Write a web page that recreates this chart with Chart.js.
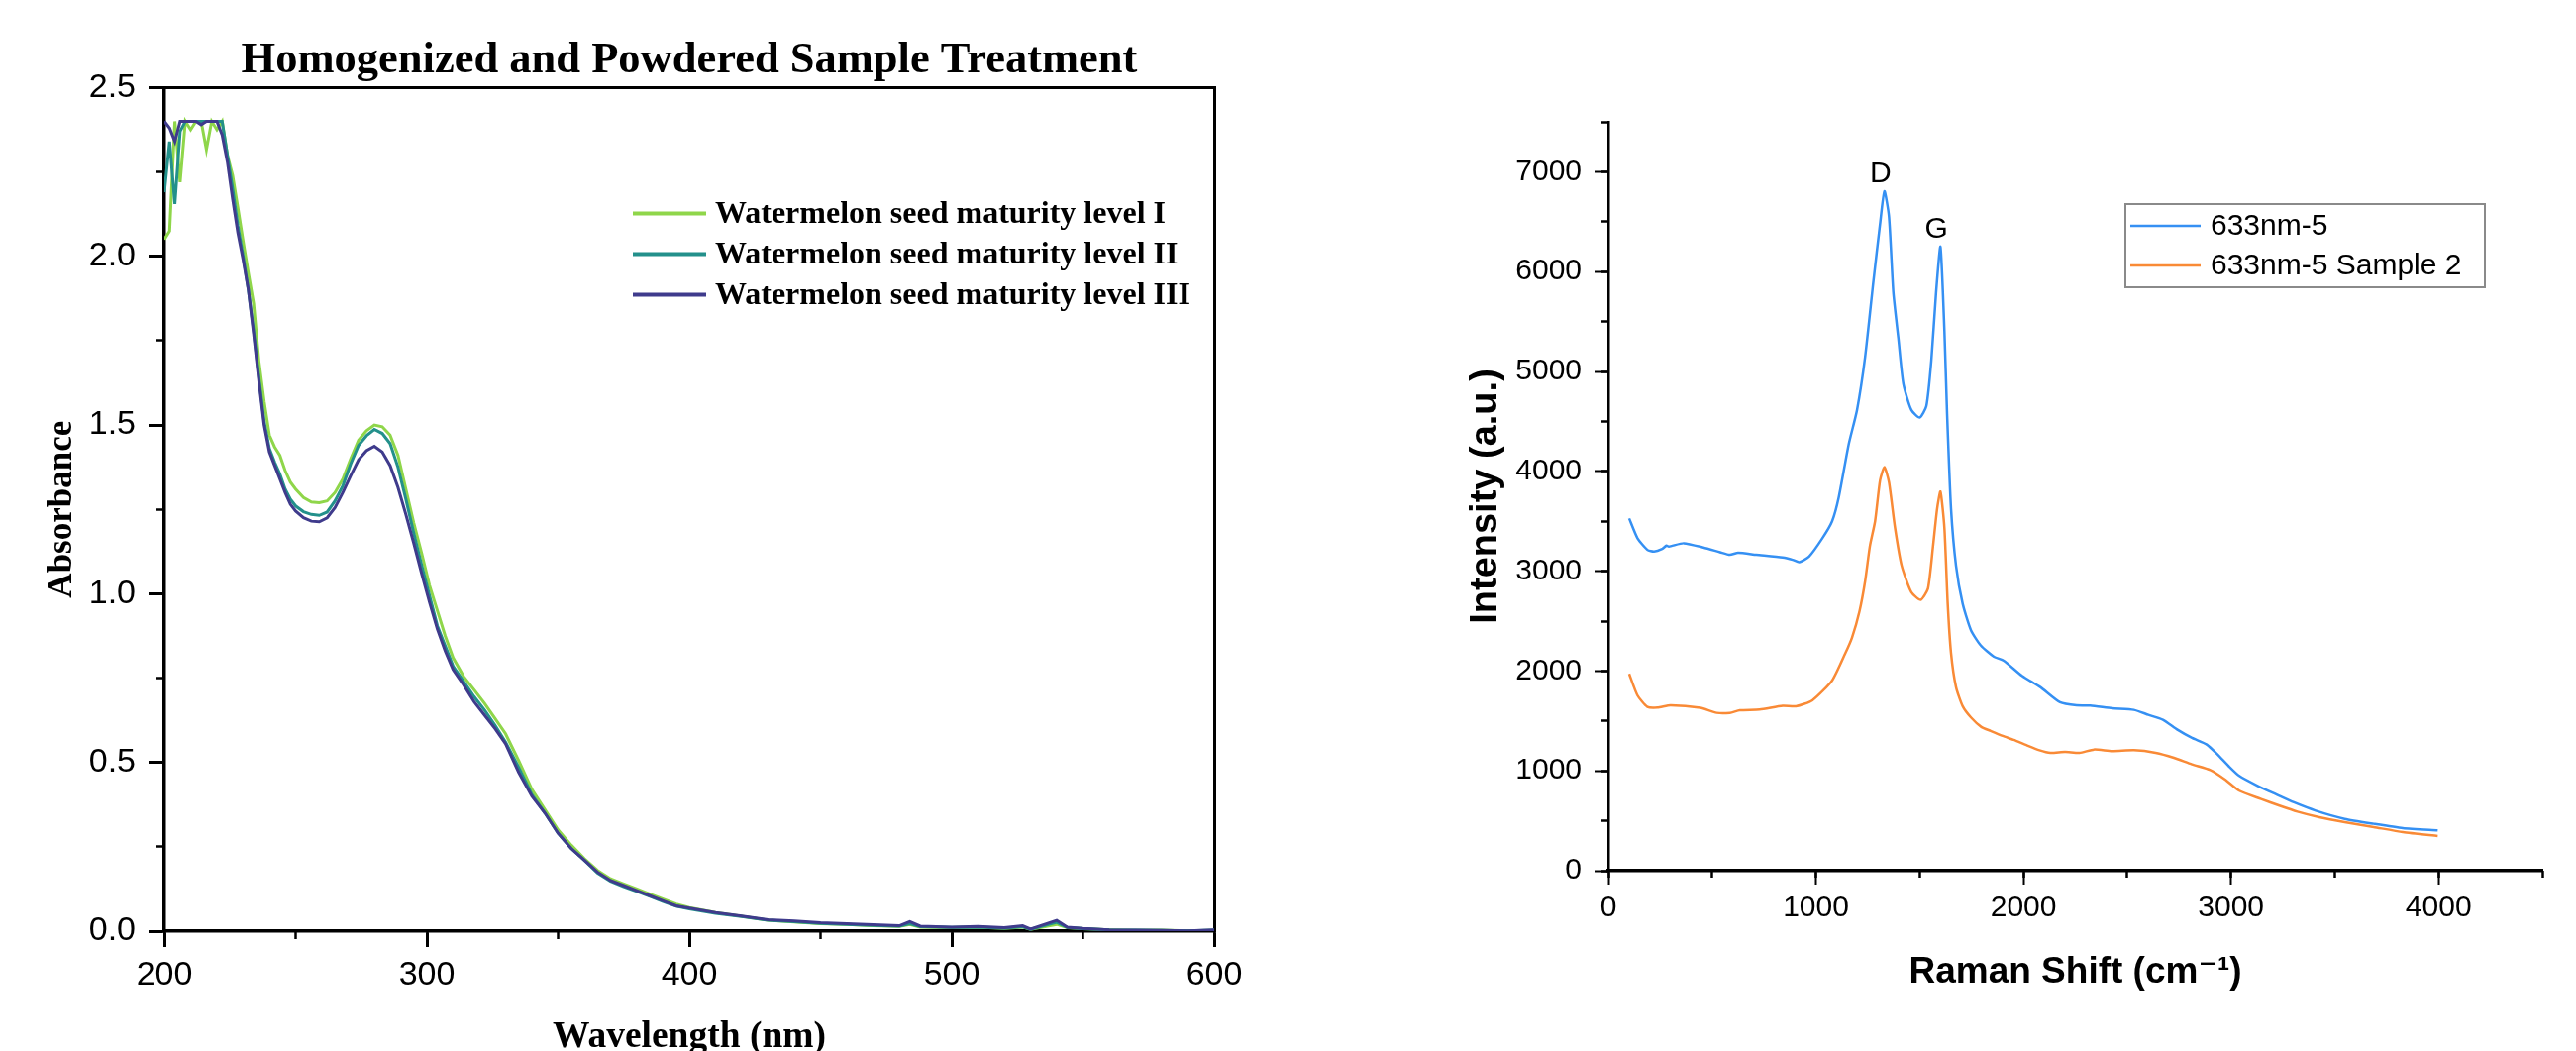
<!DOCTYPE html>
<html>
<head>
<meta charset="utf-8">
<script src="https://cdn.jsdelivr.net/npm/chart.js@4.4.1/dist/chart.umd.min.js"></script>
<style>
  html, body { margin: 0; padding: 0; background: #fff; overflow: hidden; }
  #left { position: absolute; left: 0; top: 0; width: 1300px; height: 1100px; }
  #right { position: absolute; left: 1300px; top: 0; width: 1301px; height: 1100px; }
</style>
</head>
<body>
<div id="left"><canvas id="uvChart"></canvas></div>
<div id="right"><canvas id="ramanChart"></canvas></div>
<script>
const wavelength = [200, 202, 204, 206, 208, 210, 212, 214, 216, 218, 220, 222, 224, 226, 228, 230, 232, 234, 236, 238, 240, 242, 244, 246, 248, 250,
  253, 256, 259, 262, 265, 268, 271, 274, 277, 280, 283, 286, 289, 292, 295, 298, 301, 304, 307, 310,
  314, 318, 322, 326, 330, 335, 340, 345, 350, 355, 360, 365, 370, 375, 380, 385, 390, 395, 400,
  410, 420, 430, 440, 450, 460, 470, 480, 484, 488, 500, 510, 520, 527, 530, 540, 544, 550, 560, 570, 580, 590, 600];

const absorbanceI = [2.05, 2.075, 2.40, 2.22, 2.40, 2.375, 2.40, 2.40, 2.316, 2.40, 2.375, 2.40, 2.30, 2.24, 2.144, 2.045, 1.95, 1.86, 1.69, 1.57, 1.47, 1.435, 1.41, 1.365, 1.331, 1.31,
  1.285, 1.272, 1.27, 1.275, 1.30, 1.34, 1.40, 1.455, 1.483, 1.50, 1.495, 1.47, 1.41, 1.31, 1.21, 1.12, 1.025, 0.95, 0.875, 0.81,
  0.755, 0.715, 0.675, 0.63, 0.585, 0.505, 0.42, 0.36, 0.30, 0.255, 0.215, 0.18, 0.155, 0.14, 0.125, 0.11, 0.095, 0.08, 0.07,
  0.055, 0.044, 0.032, 0.027, 0.022, 0.02, 0.016, 0.014, 0.02, 0.012, 0.01, 0.012, 0.008, 0.012, 0.005, 0.02, 0.01, 0.007, 0.004, 0.002, 0.003, 0.001, 0.002];

const absorbanceII = [2.19, 2.34, 2.155, 2.37, 2.40, 2.40, 2.40, 2.40, 2.40, 2.40, 2.40, 2.40, 2.30, 2.20, 2.09, 2.00, 1.90, 1.78, 1.64, 1.51, 1.43, 1.39, 1.355, 1.31, 1.28, 1.26,
  1.243, 1.235, 1.232, 1.242, 1.275, 1.32, 1.385, 1.44, 1.468, 1.487, 1.475, 1.445, 1.375, 1.28, 1.18, 1.085, 0.995, 0.905, 0.845, 0.785,
  0.74, 0.695, 0.655, 0.61, 0.56, 0.485, 0.405, 0.35, 0.29, 0.245, 0.21, 0.172, 0.148, 0.132, 0.118, 0.103, 0.088, 0.074, 0.066,
  0.053, 0.043, 0.032, 0.028, 0.023, 0.02, 0.017, 0.015, 0.022, 0.013, 0.011, 0.012, 0.009, 0.013, 0.005, 0.026, 0.011, 0.007, 0.004, 0.003, 0.002, 0.001, 0.003];

const absorbanceIII = [2.40, 2.38, 2.34, 2.40, 2.40, 2.40, 2.40, 2.39, 2.40, 2.40, 2.40, 2.36, 2.28, 2.17, 2.07, 1.99, 1.90, 1.77, 1.63, 1.50, 1.42, 1.38, 1.34, 1.30, 1.265, 1.245,
  1.225, 1.215, 1.213, 1.225, 1.255, 1.30, 1.35, 1.397, 1.424, 1.437, 1.42, 1.38, 1.315, 1.235, 1.15, 1.06, 0.975, 0.895, 0.83, 0.775,
  0.73, 0.68, 0.64, 0.60, 0.555, 0.47, 0.40, 0.35, 0.29, 0.245, 0.21, 0.175, 0.15, 0.135, 0.12, 0.105, 0.09, 0.075, 0.068,
  0.055, 0.045, 0.034, 0.03, 0.025, 0.022, 0.019, 0.016, 0.028, 0.015, 0.012, 0.014, 0.01, 0.016, 0.006, 0.032, 0.012, 0.008, 0.004, 0.003, 0.002, 0.001, 0.004];

const uvLabels = ['Watermelon seed maturity level I', 'Watermelon seed maturity level II', 'Watermelon seed maturity level III'];
const uvColors = ['#8fd64a', '#23908b', '#3f3b8c'];

const ramanShiftA = [100, 140, 188, 220, 259, 280, 291, 363, 458, 538, 585, 625, 712, 840, 888, 920, 967, 1031, 1078, 1110,
  1158, 1198, 1237, 1277, 1309, 1330, 1352, 1373, 1397, 1421, 1460, 1500, 1532, 1556, 1579, 1600, 1619, 1632, 1651, 1675,
  1707, 1747, 1794, 1858, 1905, 1993, 2081, 2176, 2256, 2322, 2427, 2532, 2602, 2672, 2742, 2812, 2883, 2935, 2988, 3040,
  3128, 3215, 3303, 3408, 3548, 3688, 3828, 3996];
const intensityA = [3528, 3330, 3213, 3197, 3223, 3256, 3246, 3280, 3237, 3190, 3164, 3184, 3164, 3137, 3114, 3091, 3147, 3330, 3500, 3740,
  4271, 4614, 5145, 5905, 6476, 6805, 6552, 5792, 5335, 4879, 4614, 4538, 4652, 5108, 5792, 6250, 5412, 4576, 3625, 3055,
  2675, 2409, 2257, 2143, 2104, 1952, 1839, 1687, 1656, 1654, 1627, 1611, 1561, 1512, 1412, 1330, 1264, 1164, 1049, 949,
  850, 767, 685, 602, 519, 470, 427, 404];

const ramanShiftB = [100, 140, 188, 236, 300, 443, 522, 585, 633, 729, 840, 904, 983, 1078, 1142, 1174, 1210, 1237, 1260, 1285,
  1309, 1330, 1352, 1381, 1413, 1460, 1505, 1540, 1564, 1584, 1600, 1619, 1635, 1651, 1675, 1707, 1747, 1797, 1842, 1900,
  1953, 2007, 2077, 2130, 2200, 2270, 2340, 2427, 2532, 2637, 2725, 2812, 2900, 2970, 3040, 3145, 3233, 3320, 3425, 3548,
  3688, 3828, 3996];
const intensityB = [1972, 1756, 1641, 1634, 1657, 1631, 1581, 1581, 1607, 1614, 1651, 1647, 1707, 1905, 2180, 2336, 2600, 2900, 3250, 3500,
  3910, 4043, 3891, 3435, 3055, 2788, 2713, 2826, 3245, 3625, 3797, 3435, 2675, 2180, 1839, 1648, 1535, 1440, 1400, 1350,
  1310, 1264, 1207, 1181, 1191, 1181, 1214, 1198, 1207, 1181, 1131, 1065, 1009, 916, 801, 718, 652, 592, 536, 486,
  437, 387, 347];

const ramanLabels = ['633nm-5', '633nm-5 Sample 2'];
const ramanColors = ['#3590f3', '#f98a36'];
const peakNames = ['D', 'G'];
const peakShifts = [1330, 1600];

const serif = '"Liberation Serif", "Times New Roman", serif';
const sans = '"Liberation Sans", Arial, "DejaVu Sans", sans-serif';

const toPoints = (xs, ys) => xs.map((x, i) => ({ x: x, y: ys[i] }));

// legend drawn inside the plot area, like the original
const uvLegend = {
  id: 'uvLegend',
  afterDraw(chart) {
    const { ctx, chartArea: a } = chart;
    ctx.save();
    ctx.font = 'bold 32px ' + serif;
    ctx.textBaseline = 'middle';
    chart.data.datasets.forEach((ds, i) => {
      const y = a.top + 127 + i * 41;
      ctx.strokeStyle = ds.borderColor;
      ctx.lineWidth = 4;
      ctx.beginPath();
      ctx.moveTo(a.left + 473, y);
      ctx.lineTo(a.left + 547, y);
      ctx.stroke();
      ctx.fillStyle = '#000';
      ctx.fillText(ds.label, a.left + 556, y + 1);
    });
    ctx.restore();
  }
};

const ramanLegend = {
  id: 'ramanLegend',
  afterDraw(chart) {
    const { ctx, chartArea: a } = chart;
    ctx.save();
    ctx.strokeStyle = '#8a8a8a';
    ctx.lineWidth = 2;
    ctx.strokeRect(a.left + 522, a.top + 83, 363, 84);
    ctx.font = '30px ' + sans;
    ctx.textBaseline = 'middle';
    chart.data.datasets.forEach((ds, i) => {
      const y = a.top + 105 + i * 40;
      ctx.strokeStyle = ds.borderColor;
      ctx.lineWidth = 2.5;
      ctx.beginPath();
      ctx.moveTo(a.left + 527, y);
      ctx.lineTo(a.left + 598, y);
      ctx.stroke();
      ctx.fillStyle = '#000';
      ctx.fillText(ds.label, a.left + 608, y + 1);
    });
    ctx.restore();
  }
};

const peakLabels = {
  id: 'peakLabels',
  afterDatasetsDraw(chart) {
    const { ctx, scales } = chart;
    ctx.save();
    ctx.font = '30px ' + sans;
    ctx.fillStyle = '#000';
    ctx.textAlign = 'center';
    ctx.textBaseline = 'alphabetic';
    peakNames.forEach((name, i) => {
      const j = ramanShiftA.indexOf(peakShifts[i]);
      const px = scales.x.getPixelForValue(ramanShiftA[j]);
      const py = scales.y.getPixelForValue(intensityA[j]);
      ctx.fillText(name, px - 4, py - 9);
    });
    ctx.restore();
  }
};

// keep only ticks on whole multiples of the major step
const majorOnly = step => s => { s.ticks = s.ticks.filter(t => Math.abs(t.value / step - Math.round(t.value / step)) < 1e-6); };

const minorAxis = (axis, min, max, step, len, at) => ({
  type: 'linear', axis: axis, min: min, max: max, position: at,
  border: { display: false },
  grid: { drawOnChartArea: false, tickLength: len, tickWidth: 2.5, tickColor: '#000' },
  ticks: { display: false, stepSize: step }
});

const frameAxis = (axis, min, max, at) => ({
  type: 'linear', axis: axis, min: min, max: max, position: at,
  border: { display: true, color: '#000', width: 3 },
  grid: { drawOnChartArea: false, drawTicks: false },
  ticks: { display: false }
});

new Chart(document.getElementById('uvChart'), {
  type: 'line',
  data: {
    datasets: [absorbanceI, absorbanceII, absorbanceIII].map((vals, i) => ({
      label: uvLabels[i],
      data: toPoints(wavelength, vals),
      borderColor: uvColors[i],
      borderWidth: 3,
      pointRadius: 0,
      tension: 0,
      fill: false,
      order: 3 - i
    }))
  },
  options: {
    animation: false,
    responsive: true,
    maintainAspectRatio: false,
    layout: { padding: { left: 0, right: 74, top: 0, bottom: 0 } },
    plugins: {
      legend: { display: false },
      tooltip: { enabled: false },
      title: {
        display: true,
        text: 'Homogenized and Powdered Sample Treatment',
        fullSize: false,
        color: '#000',
        font: { family: serif, size: 44.5, weight: 'bold', lineHeight: 1.2 },
        padding: { top: 35, bottom: 0 }
      }
    },
    scales: {
      x: {
        type: 'linear', min: 200, max: 600,
        afterFit: s => { s.height = 160; },
        border: { color: '#000', width: 3.5 },
        grid: { drawOnChartArea: false, tickLength: 16, tickWidth: 3, tickColor: '#000' },
        ticks: { stepSize: 100, color: '#000', font: { family: sans, size: 34 }, padding: 8, maxRotation: 0 },
        title: {
          display: true, text: 'Wavelength (nm)', color: '#000',
          font: { family: serif, size: 37.5, weight: 'bold', lineHeight: 1.2 },
          padding: { top: 0, bottom: 30 }
        }
      },
      y: {
        type: 'linear', min: 0, max: 2.5,
        afterFit: s => { s.width = 166; },
        border: { color: '#000', width: 3.5 },
        grid: { drawOnChartArea: false, tickLength: 16, tickWidth: 3, tickColor: '#000' },
        ticks: { stepSize: 0.5, color: '#000', font: { family: sans, size: 34 }, padding: 13, callback: v => v.toFixed(1) },
        title: {
          display: true, text: 'Absorbance', color: '#000',
          font: { family: serif, size: 35, weight: 'bold', lineHeight: 1.2 },
          padding: { top: 42, bottom: 0 }
        }
      },
      xMinor: minorAxis('x', 200, 600, 50, 8, { y: 0 }),
      yMinor: minorAxis('y', 0, 2.5, 0.25, 8, { x: 200 }),
      xTop: frameAxis('x', 200, 600, { y: 2.5 }),
      yRight: frameAxis('y', 0, 2.5, { x: 600 })
    }
  },
  plugins: [uvLegend]
});

new Chart(document.getElementById('ramanChart'), {
  type: 'line',
  data: {
    datasets: [
      { label: ramanLabels[0], data: toPoints(ramanShiftA, intensityA) },
      { label: ramanLabels[1], data: toPoints(ramanShiftB, intensityB) }
    ].map((ds, i) => Object.assign(ds, {
      borderColor: ramanColors[i],
      borderWidth: 2.5,
      pointRadius: 0,
      tension: 0.2,
      fill: false
    }))
  },
  options: {
    animation: false,
    responsive: true,
    maintainAspectRatio: false,
    layout: { padding: { left: 0, right: 34, top: 123, bottom: 0 } },
    plugins: {
      legend: { display: false },
      tooltip: { enabled: false }
    },
    scales: {
      x: {
        type: 'linear', min: 0, max: 4500,
        afterFit: s => { s.height = 221; },
        afterBuildTicks: majorOnly(1000),
        border: { color: '#000', width: 3.5 },
        grid: { drawOnChartArea: false, tickLength: 14, tickWidth: 2, tickColor: '#000' },
        ticks: { stepSize: 500, color: '#000', font: { family: sans, size: 30 }, padding: 6, maxRotation: 0, callback: v => String(v) },
        title: {
          display: true, text: 'Raman Shift (cm\u207B\u00B9)', color: '#000',
          font: { family: sans, size: 37, weight: 'bold', lineHeight: 1.2 },
          padding: { top: 0, bottom: 96 }
        }
      },
      y: {
        type: 'linear', min: 0, max: 7500,
        afterFit: s => { s.width = 324; },
        afterBuildTicks: majorOnly(1000),
        border: { color: '#000', width: 2.5 },
        grid: { drawOnChartArea: false, tickLength: 14, tickWidth: 2, tickColor: '#000' },
        ticks: { stepSize: 500, color: '#000', font: { family: sans, size: 30 }, padding: 13, callback: v => String(v) },
        title: {
          display: true, text: 'Intensity (a.u.)', color: '#000',
          font: { family: sans, size: 38, weight: 'bold', lineHeight: 1.2 },
          padding: { top: 178, bottom: 0 }
        }
      },
      xMinor: minorAxis('x', 0, 4500, 500, 7, { y: 0 }),
      yMinor: minorAxis('y', 0, 7500, 500, 7, { x: 0 })
    }
  },
  plugins: [peakLabels, ramanLegend]
});
</script>
</body>
</html>
